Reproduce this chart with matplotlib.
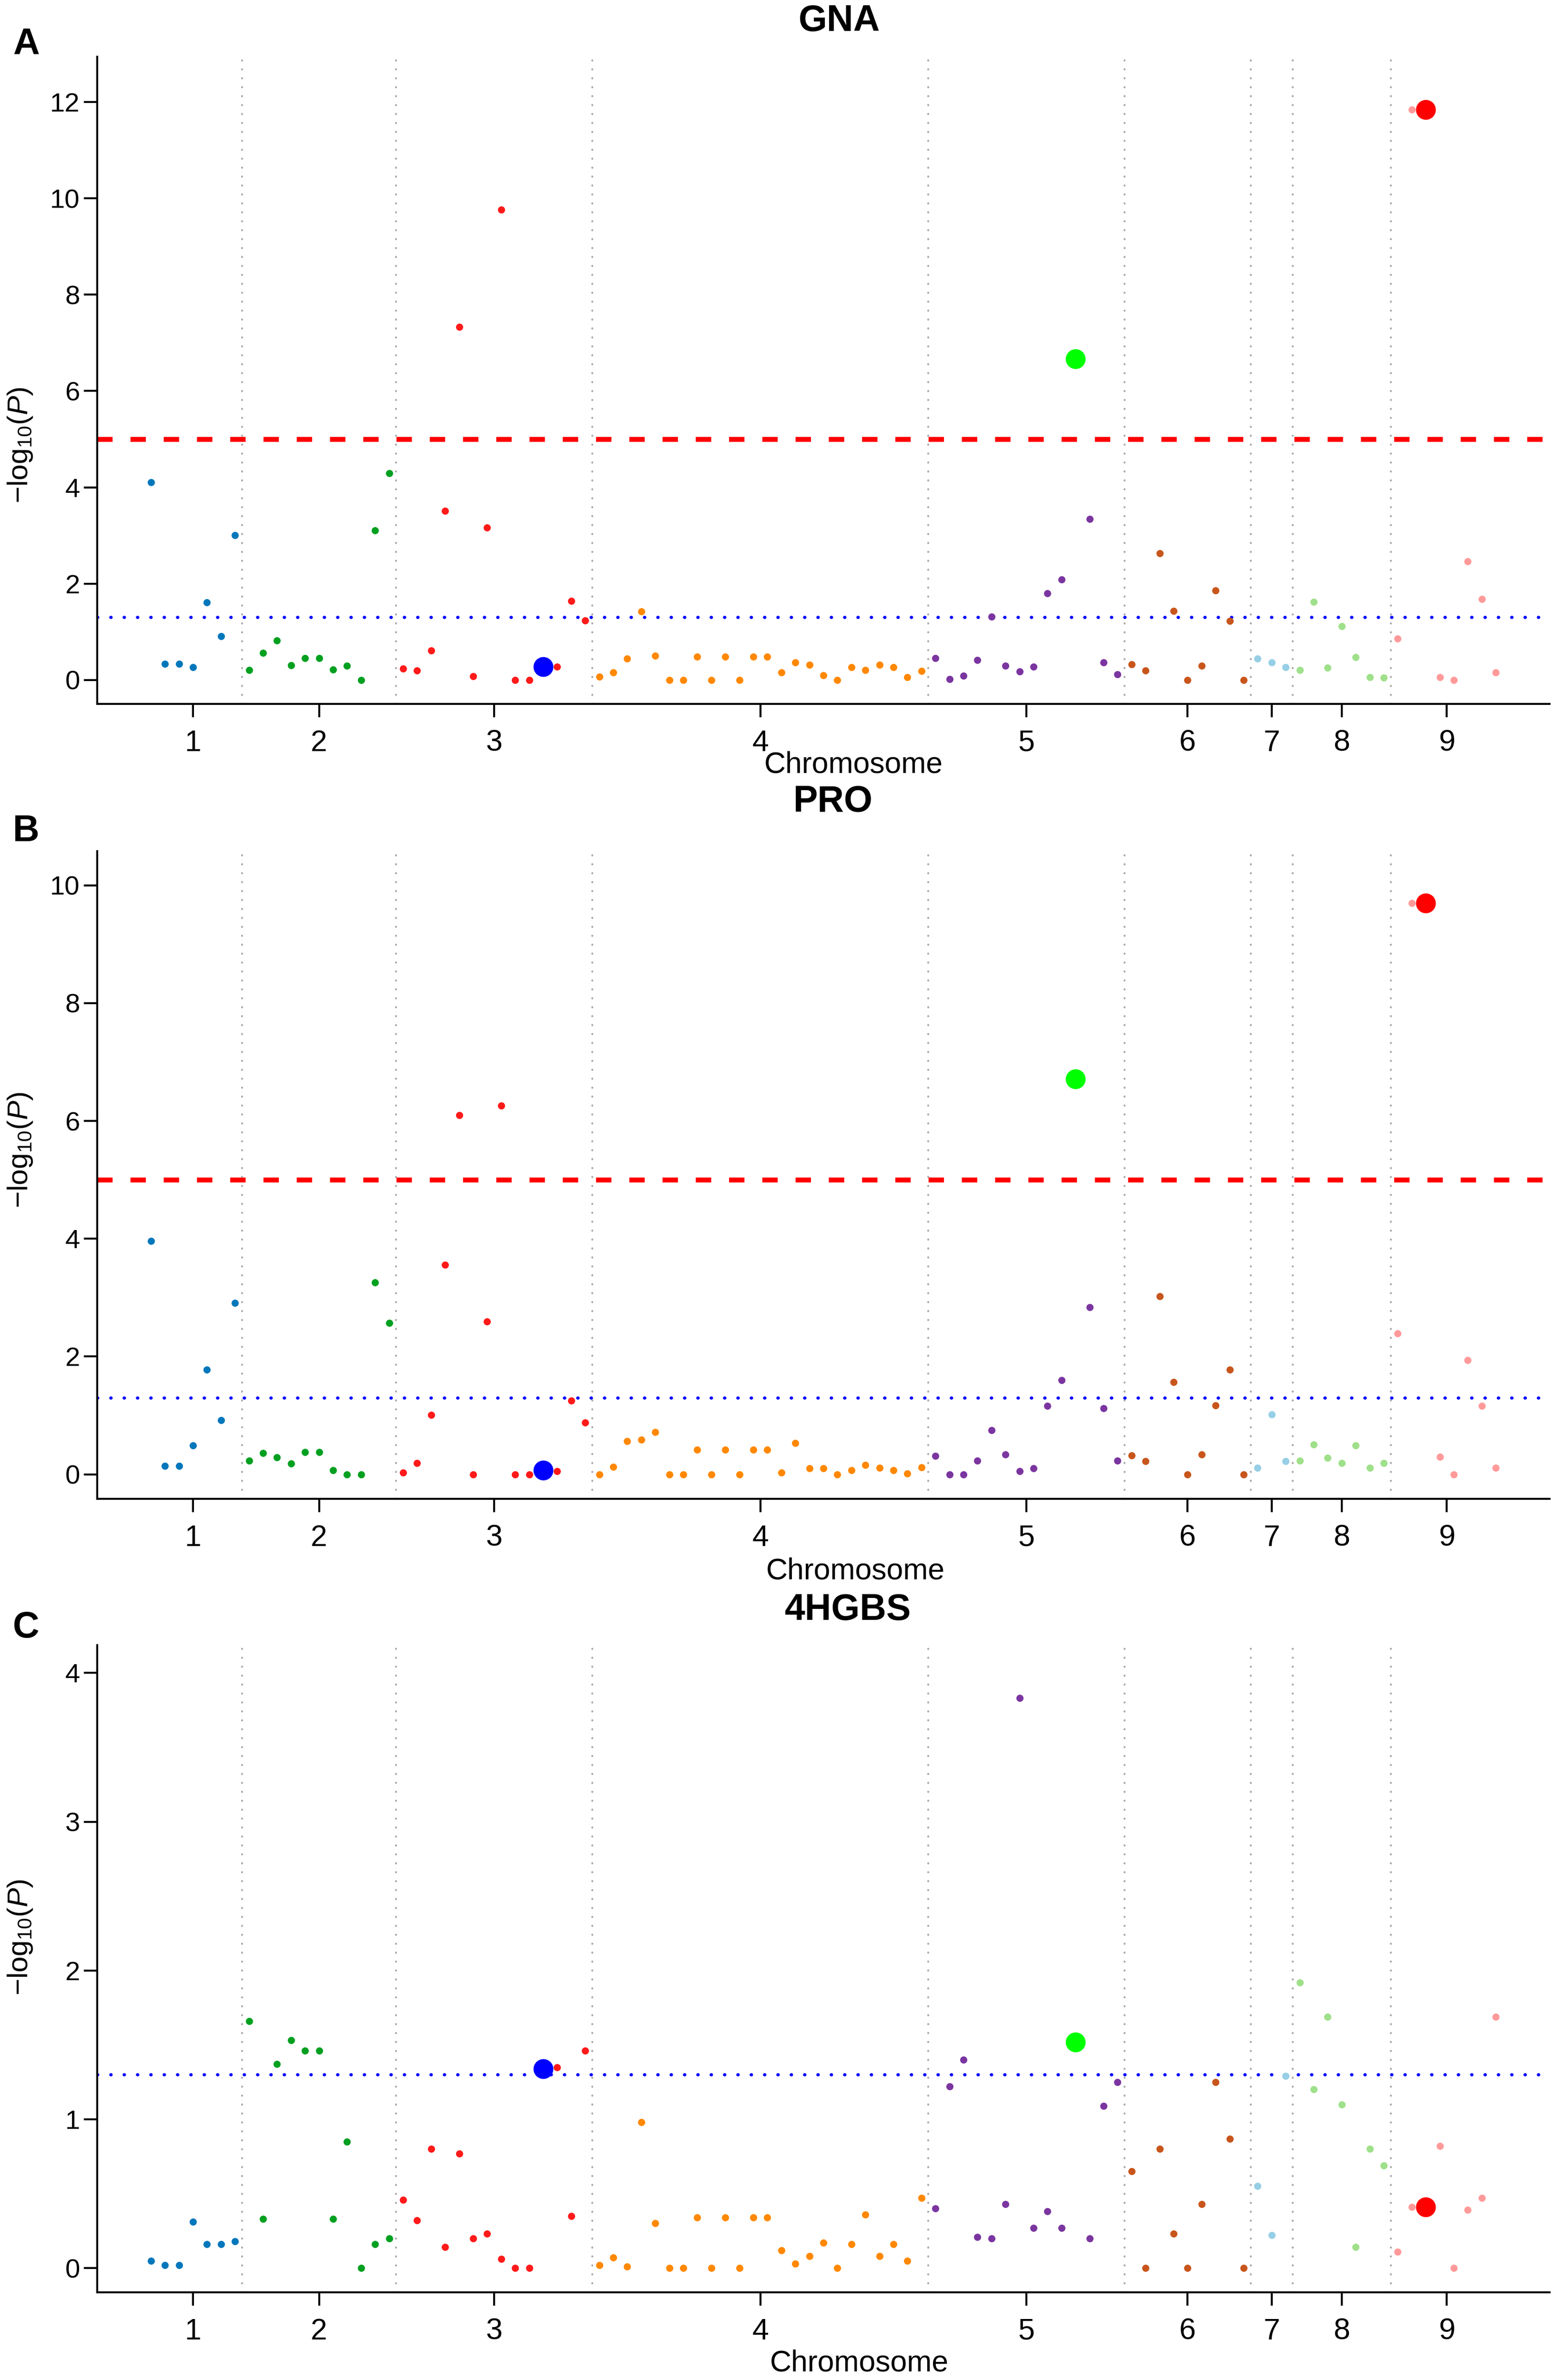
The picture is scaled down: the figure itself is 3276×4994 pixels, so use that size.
import matplotlib
matplotlib.use("Agg")
import matplotlib.pyplot as plt
import numpy as np

plt.rcParams['font.family'] = ['Liberation Sans', 'DejaVu Sans']
plt.rcParams['mathtext.fontset'] = 'custom'
plt.rcParams['mathtext.rm'] = 'Liberation Sans'
plt.rcParams['mathtext.it'] = 'Liberation Sans:italic'

# chromosomes, number of markers on each, and their colours
chrom_names = ['1', '2', '3', '4', '5', '6', '7', '8', '9']
chrom_counts = [7, 11, 14, 24, 14, 9, 3, 7, 8]
chrom_colors = ['#0077BB', '#00A020', '#FF1A1A', '#FF8800', '#7B35A0',
                '#C8561C', '#96CFE6', '#9FE08A', '#FF9A9A']

# -log10(P) per marker, in marker order (chr1 ... chr9)
gna = [4.11, 0.34, 0.34, 0.27, 1.61, 0.91, 3.01,
       0.21, 0.56, 0.82, 0.31, 0.45, 0.45, 0.22, 0.30, 0.0, 3.11, 4.29,
       0.24, 0.20, 0.61, 3.51, 7.33, 0.08, 3.17, 9.76, 0.0, 0.0, 0.28, 0.28, 1.64, 1.24,
       0.07, 0.16, 0.44, 1.42, 0.50, 0.0, 0.0, 0.48, 0.0, 0.48, 0.0, 0.48, 0.48, 0.16,
       0.37, 0.32, 0.10, 0.0, 0.27, 0.21, 0.32, 0.27, 0.06, 0.19,
       0.45, 0.02, 0.09, 0.42, 1.32, 0.30, 0.18, 0.28, 1.80, 2.09, 6.67, 3.34, 0.37, 0.12,
       0.33, 0.20, 2.63, 1.43, 0.0, 0.30, 1.86, 1.23, 0.0,
       0.44, 0.37, 0.27,
       0.21, 1.62, 0.26, 1.12, 0.47, 0.06, 0.05,
       0.86, 11.84, 11.84, 0.06, 0.0, 2.46, 1.68, 0.16]

pro = [3.96, 0.14, 0.14, 0.49, 1.78, 0.92, 2.91,
       0.23, 0.36, 0.29, 0.18, 0.38, 0.38, 0.07, 0.0, 0.0, 3.26, 2.57,
       0.03, 0.19, 1.01, 3.56, 6.10, 0.0, 2.59, 6.26, 0.0, 0.0, 0.07, 0.05, 1.25, 0.88,
       0.0, 0.13, 0.56, 0.59, 0.72, 0.0, 0.0, 0.42, 0.0, 0.42, 0.0, 0.42, 0.42, 0.03,
       0.53, 0.10, 0.10, 0.0, 0.07, 0.16, 0.11, 0.07, 0.01, 0.12,
       0.31, 0.0, 0.0, 0.23, 0.75, 0.34, 0.05, 0.10, 1.16, 1.60, 6.71, 2.84, 1.12, 0.23,
       0.32, 0.22, 3.02, 1.57, 0.0, 0.34, 1.17, 1.78, 0.0,
       0.11, 1.02, 0.22,
       0.23, 0.51, 0.28, 0.19, 0.49, 0.11, 0.19,
       2.39, 9.70, 9.70, 0.30, 0.0, 1.94, 1.16, 0.11]

hgbs = [0.05, 0.02, 0.02, 0.31, 0.16, 0.16, 0.18,
        1.66, 0.33, 1.37, 1.53, 1.46, 1.46, 0.33, 0.85, 0.0, 0.16, 0.20,
        0.46, 0.32, 0.80, 0.14, 0.77, 0.20, 0.23, 0.06, 0.0, 0.0, 1.34, 1.35, 0.35, 1.46,
        0.02, 0.07, 0.01, 0.98, 0.30, 0.0, 0.0, 0.34, 0.0, 0.34, 0.0, 0.34, 0.34, 0.12,
        0.03, 0.08, 0.17, 0.0, 0.16, 0.36, 0.08, 0.16, 0.05, 0.47,
        0.40, 1.22, 1.40, 0.21, 0.20, 0.43, 3.83, 0.27, 0.38, 0.27, 1.52, 0.20, 1.09, 1.25,
        0.65, 0.0, 0.80, 0.23, 0.0, 0.43, 1.25, 0.87, 0.0,
        0.55, 0.22, 1.29,
        1.92, 1.20, 1.69, 1.10, 0.14, 0.80, 0.69,
        0.11, 0.41, 0.41, 0.82, 0.0, 0.39, 0.47, 1.69]

# highlighted markers (1-based marker number) and their colours
highlight_idx = [29, 67, 92]
highlight_colors = ['#0000FF', '#00FF00', '#FF0000']

panel_titles = ['GNA', 'PRO', '4HGBS']
panel_letters = ['A', 'B', 'C']
panel_values = [gna, pro, hgbs]
panel_yticks = [[0, 2, 4, 6, 8, 10, 12], [0, 2, 4, 6, 8, 10], [0, 1, 2, 3, 4]]
panel_ylim = [(-0.495, 12.94), (-0.416, 10.58), (-0.163, 4.187)]

sig_line = 5.0
sug_line = -np.log10(0.05)

# layout in pixels of the 3276 x 4994 image
W, H = 3276, 4994
axes_px = [(119, 1477), (1786, 3145), (3452, 4810)]
title_px = [(1762, 44), (1748, 1682), (1780, 3378)]
letter_py = [93, 1744, 3415]
ylab_py = [934, 2413, 4065]
xlab_px = [(1791, 1605), (1795, 3297), (1803, 4959)]
ax_left, ax_right = 204, 3252

fig = plt.figure(figsize=(W / 300, H / 300), dpi=300)

n = sum(chrom_counts)
pos = np.arange(1, n + 1)
chrom_of = np.repeat(np.arange(len(chrom_counts)), chrom_counts)
ends = np.cumsum(chrom_counts)
starts = ends - np.array(chrom_counts) + 1
centers = (starts + ends) / 2
bounds = ends[:-1] + 0.5

for k in range(3):
    top, bot = axes_px[k]
    ax = fig.add_axes([ax_left / W, 1 - bot / H, (ax_right - ax_left) / W, (bot - top) / H])
    vals = np.array(panel_values[k])

    for b in bounds:
        ax.axvline(b, color='#AAAAAA', lw=1.0, linestyle=(0, (0.1, 4.4)),
                   dash_capstyle='round', zorder=1)
    if sig_line < panel_ylim[k][1]:
        ax.axhline(sig_line, color='#FF0000', lw=2.5, linestyle=(0, (3.1, 3.6)), zorder=2)
    ax.axhline(sug_line, color='#0000FF', lw=1.6, linestyle=(0, (0.1, 4.1)),
               dash_capstyle='round', zorder=2)

    for c in range(len(chrom_counts)):
        m = chrom_of == c
        ax.scatter(pos[m], vals[m], s=13, color=chrom_colors[c], linewidths=0, zorder=3)
    for i, col in zip(highlight_idx, highlight_colors):
        ax.scatter([i], [vals[i - 1]], s=100, color=col, linewidths=0, zorder=4)

    ax.set_xlim(1 - 3.84, n + 3.84)
    ax.set_ylim(*panel_ylim[k])
    ax.set_xticks(centers)
    ax.set_xticklabels(chrom_names)
    ax.set_yticks(panel_yticks[k])
    ax.tick_params(axis='x', direction='out', length=6.7, width=1.0, labelsize=15, pad=6)
    ax.tick_params(axis='y', direction='out', length=6.7, width=1.0, labelsize=13.5, pad=2)
    for s in ['top', 'right']:
        ax.spines[s].set_visible(False)
    for s in ['left', 'bottom']:
        ax.spines[s].set_linewidth(1.0)

    fig.text(title_px[k][0] / W, 1 - title_px[k][1] / H, panel_titles[k],
             ha='center', va='center', fontsize=18.5, fontweight='bold')
    fig.text(27 / W, 1 - letter_py[k] / H, panel_letters[k],
             ha='left', va='center', fontsize=18.5, fontweight='bold')
    fig.text(43 / W, 1 - ylab_py[k] / H, r'$-\mathrm{log}_{10}(P)$',
             ha='center', va='center', rotation=90, fontsize=14.5)
    fig.text(xlab_px[k][0] / W, 1 - xlab_px[k][1] / H, 'Chromosome',
             ha='center', va='center', fontsize=15)

fig.savefig('out.png', dpi=300)
